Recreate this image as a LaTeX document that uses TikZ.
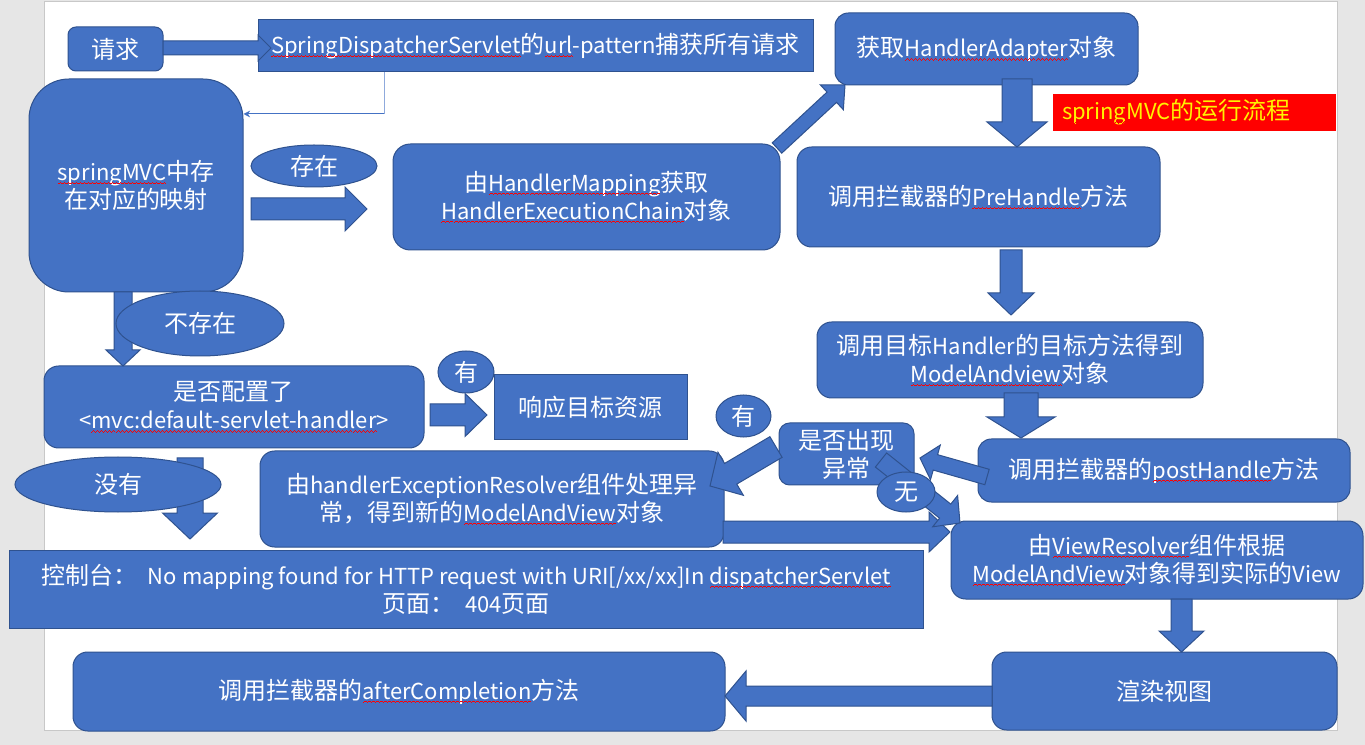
\documentclass[tikz,border=0pt]{standalone}
\usepackage{fontspec}
\newfontfamily\cjk{Noto Sans CJK SC}
\usetikzlibrary{calc,shapes.geometric,arrows.meta}
\definecolor{bfill}{HTML}{4472C4}
\definecolor{bline}{HTML}{2F528F}
\definecolor{lightline}{HTML}{8FAADC}
\definecolor{pagegrey}{HTML}{E6E6E6}
\definecolor{pageedge}{HTML}{C8C8C8}
\newcommand\lat[1]{{\fontsize{16.5}{21}\selectfont#1}}
\newsavebox\sqbox
\newcommand\wavepiece{\hbox{\textcolor{red}{\rule[-2.8pt]{0.75pt}{0.6pt}\rule[-2.3pt]{0.75pt}{0.6pt}\rule[-1.8pt]{0.75pt}{0.6pt}\rule[-2.3pt]{0.75pt}{0.6pt}}}}
\newcommand\sq[1]{\sbox\sqbox{\lat{#1}}\rlap{\usebox\sqbox}\xleaders\wavepiece\hskip\wd\sqbox\null}
\newcommand\blockarrow[5]{%
  \coordinate (ba-h) at ($(#2)!#5*0.75pt!(#1)$);
  \draw[barrow] ($(#1)!#3*0.75pt!90:(#2)$) -- ($(ba-h)!#3*0.75pt!90:(#2)$) -- ($(ba-h)!#4*0.75pt!90:(#2)$) -- (#2) -- ($(ba-h)!#4*0.75pt!-90:(#2)$) -- ($(ba-h)!#3*0.75pt!-90:(#2)$) -- ($(#1)!#3*0.75pt!-90:(#2)$) -- cycle;}
\tikzset{
  box/.style={draw=bline, line width=0.75pt, fill=bfill, text=white,
    font=\cjk\fontsize{18}{21}\selectfont, align=center, inner sep=0pt},
  rbox/.style={box, rounded corners=#1},
  oval/.style={box, ellipse},
  wh/.style 2 args={minimum width=#1*0.75pt, minimum height=#2*0.75pt},
  barrow/.style={draw=bline, line width=0.75pt, fill=bfill, line join=miter},
  thin/.style={draw=bfill, line width=0.75pt, -{Stealth[length=5pt,width=5pt]}},
  redlabel/.style={fill=red, text=yellow, font=\cjk\fontsize{18}{21}\selectfont,
    align=left, inner xsep=6.75pt, inner ysep=0pt, text width=198.75pt, minimum height=27.75pt}
}
\begin{document}
\begin{tikzpicture}[x=0.75pt,y=-0.75pt]
\useasboundingbox (0,0) rectangle (1365,745);
\fill[pagegrey] (0,0) rectangle (1365,745);
\draw[pageedge, fill=white, line width=0.75pt] (44,2) rectangle (1337,730);

% boxes
\node[rbox=6pt, wh={95}{44}] (req) at (115.5,49) {请求};
\node[box, wh={555}{52}] (disp) at (535.5,46) {\sq{SpringDispatcherServlet}的\sq{url}\lat{-pattern}捕获所有请求};
\node[rbox=30pt, wh={214}{213}] (mvc) at (136,185.5) {\sq{springMVC}中存\\在对应的映射};
\node[rbox=13pt, wh={387}{106}] (hm) at (586.5,197) {由\sq{HandlerMapping}获取\\\sq{HandlerExecutionChain}对象};
\node[rbox=10pt, wh={303}{72}] (ha) at (986.5,49) {获取\sq{HandlerAdapter}对象};
\node[redlabel] (lbl) at (1194.5,112.5) {\sq{springMVC}的运行流程};
\node[rbox=11pt, wh={363}{100}] (pre) at (978.5,197) {调用拦截器的\sq{PreHandle}方法};
\node[rbox=11pt, wh={386}{76}] (target) at (1010,360) {调用目标\lat{Handler}的目标方法得到\\\sq{ModelAndview}对象};
\node[rbox=10pt, wh={372}{63}] (post) at (1164,470.5) {调用拦截器的\sq{postHandle}方法};
\node[rbox=8pt, wh={135}{62}] (exc) at (846.5,454) {是否出现\\异常};
\node[rbox=11pt, wh={464}{96}] (her) at (492,499) {由\lat{handlerExceptionResolver}组件处理异\\常，得到新的\sq{ModelAndView}对象};
\node[rbox=11pt, wh={412}{78}] (vr) at (1157,560) {由\sq{ViewResolver}组件根据\\\sq{ModelAndView}对象得到实际的\lat{View}};
\node[rbox=11pt, wh={345}{78}] (render) at (1164.5,691) {渲染视图};
\node[rbox=11pt, wh={652}{79}] (after) at (399,691.5) {调用拦截器的\sq{afterCompletion}方法};
\node[box, wh={914}{78}] (console) at (466,589) {控制台：\ \ \lat{No mapping found for HTTP request with URI[/xx/xx]In} \sq{dispatcherServlet}\\页面：\ \ \lat{404}页面};
\node[rbox=11pt, wh={380}{82}] (cfg) at (234,407) {是否配置了\\\lat{<}\sq{mvc:default-servlet-handler}\lat{>}};
\node[box, wh={193}{65}] (resp) at (590.5,407.5) {响应目标资源};

% thin connector
\coordinate (c1) at (disp.south -| 384,0);
\coordinate (c3) at (384,114);
\coordinate (c2) at (mvc.east |- c3);
\draw[lightline, line width=0.75pt] (c1) -- (c3);
\draw[thin] (c3) -- (c2);

% block arrows
\coordinate (a1s) at (163,48);  \coordinate (a1e) at (271,48);
\blockarrow{a1s}{a1e}{7}{13}{13}
\coordinate (a2s) at (251,209); \coordinate (a2e) at (367,209);
\blockarrow{a2s}{a2e}{11}{22}{22}
\coordinate (a3s) at (777,148); \coordinate (a3e) at (845,85);
\blockarrow{a3s}{a3e}{7}{17}{18}
\coordinate (a4s) at (1017,79); \coordinate (a4e) at (1017,147);
\blockarrow{a4s}{a4e}{15}{30}{25}
\coordinate (a5s) at (1011,250); \coordinate (a5e) at (1011,315);
\blockarrow{a5s}{a5e}{11}{23}{22}
\coordinate (a6s) at (1021,393); \coordinate (a6e) at (1021,438);
\blockarrow{a6s}{a6e}{17}{34}{21}
\coordinate (a7s) at (987,477); \coordinate (a7e) at (920,458);
\blockarrow{a7s}{a7e}{8}{18}{16}
\coordinate (a8s) at (776,447); \coordinate (a8e) at (710,486);
\blockarrow{a8s}{a8e}{12}{25}{24}
\coordinate (a9s) at (723,532); \coordinate (a9e) at (950,532);
\blockarrow{a9s}{a9e}{11}{20}{21}
\coordinate (a10s) at (881,460); \coordinate (a10e) at (960,523);
\blockarrow{a10s}{a10e}{9}{20}{19}
\coordinate (a11s) at (1181.5,599); \coordinate (a11e) at (1181.5,652);
\blockarrow{a11s}{a11e}{10.5}{22.5}{21}
\coordinate (a12s) at (992,696); \coordinate (a12e) at (725,696);
\blockarrow{a12s}{a12e}{10}{25}{21}
\coordinate (a13s) at (123,292); \coordinate (a13e) at (123,366);
\blockarrow{a13s}{a13e}{9}{17}{16}
\coordinate (a14s) at (430,415); \coordinate (a14e) at (487,415);
\blockarrow{a14s}{a14e}{11}{21.5}{22}
\coordinate (a15s) at (190,458); \coordinate (a15e) at (190,539);
\blockarrow{a15s}{a15e}{13}{27.5}{26}

% ovals
\node[oval, wh={126}{42}] (cz) at (314,166) {存在};
\node[oval, wh={168}{65}] (bcz) at (200,323.5) {不存在};
\node[oval, wh={56}{42}] (you1) at (466,372) {有};
\node[oval, wh={55}{42}] (you2) at (743.5,416) {有};
\node[oval, wh={58}{40}] (wu) at (906,492) {无};
\node[oval, wh={206}{55}] (meiyou) at (118,484.5) {没有};
\end{tikzpicture}
\end{document}
